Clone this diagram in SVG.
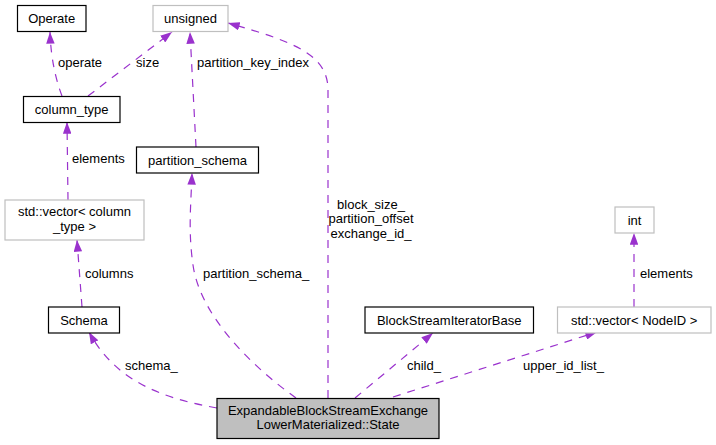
<svg xmlns="http://www.w3.org/2000/svg" width="716" height="445" viewBox="0 0 716 445">
<style>
text{font-family:"Liberation Sans",Arial,Helvetica,sans-serif;font-size:13px;fill:#000}
.n{fill:#fff;stroke:#000;stroke-width:1.2}
.g{fill:#fff;stroke:#bfbfbf;stroke-width:1.2}
.m{fill:#bfbfbf;stroke:#000;stroke-width:1.2}
.c text,.n+text,.g+text,.m+text{text-anchor:middle}
.e{fill:none;stroke:#9a32cd;stroke-width:1.2;stroke-dasharray:8,7}
.lbl{text-anchor:start}
</style>
<defs>
<marker id="ah" viewBox="0 0 11 8" refX="11" refY="4" markerWidth="12" markerHeight="8.5" markerUnits="userSpaceOnUse" orient="auto">
<path d="M0,0 L11,4 L0,8 z" fill="#9a32cd"/>
</marker>
</defs>
<g id="connectors">
<path class="e" marker-end="url(#ah)" d="M62,96 C56,80 51,60 50,32"/>
<path class="e" marker-end="url(#ah)" d="M88,96 L172,32"/>
<path class="e" marker-end="url(#ah)" d="M196,147 L190,32"/>
<path class="e" marker-end="url(#ah)" d="M328,398 L328,90 C328,55 295,42 228,23"/>
<path class="e" marker-end="url(#ah)" d="M68,200 L67,122"/>
<path class="e" marker-end="url(#ah)" d="M82,307 L77,240"/>
<path class="e" marker-end="url(#ah)" d="M296,398 C250,365 200,315 193,265 C188,230 191,205 192,173"/>
<path class="e" marker-end="url(#ah)" d="M217,408 C160,398 115,380 89,332"/>
<path class="e" marker-end="url(#ah)" d="M355,398 L433,333"/>
<path class="e" marker-end="url(#ah)" d="M393,397 L597,332"/>
<path class="e" marker-end="url(#ah)" d="M634,307 L634,233"/>
<text class="lbl" x="58" y="67">operate</text>
<text class="lbl" x="136" y="67">size</text>
<text class="lbl" x="197" y="67">partition_key_index</text>
<text class="lbl" x="72" y="162.5">elements</text>
<text class="lbl" x="85" y="277.5">columns</text>
<text class="lbl" x="203" y="277.5">partition_schema_</text>
<text class="lbl" x="125" y="369.5">schema_</text>
<text class="lbl" x="407" y="369.5">child_</text>
<text class="lbl" x="523" y="369.5">upper_id_list_</text>
<text class="lbl" x="640" y="277.5">elements</text>
<text x="371" y="208.5" text-anchor="middle">block_size_</text>
<text x="371" y="223" text-anchor="middle">partition_offset</text>
<text x="371" y="237.5" text-anchor="middle">exchange_id_</text>
</g>
<g id="main">
<rect class="m" x="217" y="398.5" width="222" height="40"/>
<text x="328" y="414.5" text-anchor="middle">ExpandableBlockStreamExchange</text>
<text x="328" y="429" text-anchor="middle">LowerMaterialized::State</text>
</g>
<g id="Operate">
<rect class="n" x="17.5" y="5.5" width="68.5" height="26"/>
<text x="51.7" y="23" text-anchor="middle">Operate</text>
</g>
<g id="unsigned">
<rect class="g" x="153" y="5.5" width="75" height="26"/>
<text x="190.5" y="23" text-anchor="middle">unsigned</text>
</g>
<g id="column_type">
<rect class="n" x="23.5" y="96.5" width="96.5" height="26"/>
<text x="71.7" y="114" text-anchor="middle">column_type</text>
</g>
<g id="partition_schema">
<rect class="n" x="136.5" y="147" width="122" height="26"/>
<text x="197.5" y="164.5" text-anchor="middle">partition_schema</text>
</g>
<g id="vector_column_type">
<rect class="g" x="5" y="200" width="139" height="40"/>
<text x="74.5" y="216" text-anchor="middle">std::vector&lt; column</text>
<text x="74.5" y="231" text-anchor="middle">_type &gt;</text>
</g>
<g id="Schema">
<rect class="n" x="48.5" y="307" width="71" height="26"/>
<text x="84" y="324.5" text-anchor="middle">Schema</text>
</g>
<g id="BlockStreamIteratorBase">
<rect class="n" x="365" y="307" width="168.5" height="26"/>
<text x="449.2" y="324.5" text-anchor="middle">BlockStreamIteratorBase</text>
</g>
<g id="vector_NodeID">
<rect class="g" x="557.5" y="307" width="153.5" height="26"/>
<text x="634.2" y="324.5" text-anchor="middle">std::vector&lt; NodeID &gt;</text>
</g>
<g id="int">
<rect class="g" x="615" y="207" width="39" height="26"/>
<text x="634.5" y="224.5" text-anchor="middle">int</text>
</g>
</svg>
